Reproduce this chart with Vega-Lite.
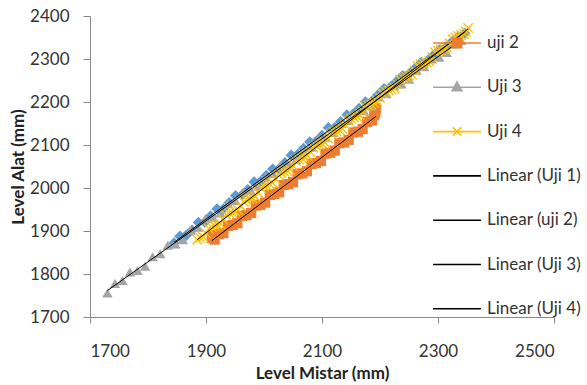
{
  "$schema": "https://vega.github.io/schema/vega-lite/v6.json",
  "autosize": {"type": "none"},
  "padding": {"left": 90, "top": 16, "right": 33, "bottom": 68},
  "width": 464,
  "height": 301,
  "background": "white",
  "config": {
    "view": {"stroke": null},
    "axis": {
      "grid": false,
      "domainColor": "#898989",
      "tickColor": "#898989",
      "tickSize": 6,
      "labelFont": "Lato",
      "labelFontSize": 17,
      "labelColor": "#333333",
      "titleFont": "Lato",
      "titleFontSize": 17,
      "titleFontWeight": "bold",
      "titleColor": "#222222"
    },
    "legend": {
      "orient": "none",
      "legendX": 345,
      "legendY": 5,
      "title": null,
      "padding": 0,
      "symbolSize": 1764,
      "symbolStrokeWidth": 1.6,
      "symbolOpacity": 1,
      "labelFont": "Lato",
      "labelFontSize": 17,
      "labelColor": "#333333",
      "labelOffset": 8,
      "rowPadding": 14.3,
      "labelLimit": 300
    }
  },
  "datasets": {
    "pts": [
      {"series": "Uji 1", "mistar": 1845, "alat": 1872},
      {"series": "Uji 1", "mistar": 1855, "alat": 1888},
      {"series": "Uji 1", "mistar": 1866, "alat": 1890},
      {"series": "Uji 1", "mistar": 1876, "alat": 1902},
      {"series": "Uji 1", "mistar": 1887, "alat": 1920},
      {"series": "Uji 1", "mistar": 1898, "alat": 1921},
      {"series": "Uji 1", "mistar": 1908, "alat": 1935},
      {"series": "Uji 1", "mistar": 1919, "alat": 1951},
      {"series": "Uji 1", "mistar": 1930, "alat": 1951},
      {"series": "Uji 1", "mistar": 1940, "alat": 1966},
      {"series": "Uji 1", "mistar": 1951, "alat": 1982},
      {"series": "Uji 1", "mistar": 1962, "alat": 1984},
      {"series": "Uji 1", "mistar": 1972, "alat": 1996},
      {"series": "Uji 1", "mistar": 1983, "alat": 2014},
      {"series": "Uji 1", "mistar": 1994, "alat": 2015},
      {"series": "Uji 1", "mistar": 2004, "alat": 2029},
      {"series": "Uji 1", "mistar": 2015, "alat": 2044},
      {"series": "Uji 1", "mistar": 2026, "alat": 2045},
      {"series": "Uji 1", "mistar": 2036, "alat": 2059},
      {"series": "Uji 1", "mistar": 2047, "alat": 2076},
      {"series": "Uji 1", "mistar": 2058, "alat": 2078},
      {"series": "Uji 1", "mistar": 2068, "alat": 2092},
      {"series": "Uji 1", "mistar": 2079, "alat": 2107},
      {"series": "Uji 1", "mistar": 2090, "alat": 2109},
      {"series": "Uji 1", "mistar": 2100, "alat": 2122},
      {"series": "Uji 1", "mistar": 2111, "alat": 2140},
      {"series": "Uji 1", "mistar": 2122, "alat": 2140},
      {"series": "Uji 1", "mistar": 2132, "alat": 2154},
      {"series": "Uji 1", "mistar": 2143, "alat": 2170},
      {"series": "Uji 1", "mistar": 2154, "alat": 2172},
      {"series": "Uji 1", "mistar": 2164, "alat": 2185},
      {"series": "Uji 1", "mistar": 2175, "alat": 2200},
      {"series": "Uji 1", "mistar": 2186, "alat": 2202},
      {"series": "Uji 1", "mistar": 2196, "alat": 2216},
      {"series": "Uji 1", "mistar": 2207, "alat": 2231},
      {"series": "Uji 1", "mistar": 2218, "alat": 2235},
      {"series": "Uji 1", "mistar": 2228, "alat": 2247},
      {"series": "Uji 1", "mistar": 2239, "alat": 2261},
      {"series": "Uji 1", "mistar": 2250, "alat": 2265},
      {"series": "Uji 1", "mistar": 2260, "alat": 2278},
      {"series": "Uji 1", "mistar": 2271, "alat": 2292},
      {"series": "Uji 1", "mistar": 2282, "alat": 2296},
      {"series": "Uji 1", "mistar": 2292, "alat": 2309},
      {"series": "Uji 1", "mistar": 2303, "alat": 2322},
      {"series": "Uji 1", "mistar": 2314, "alat": 2328},
      {"series": "Uji 1", "mistar": 2324, "alat": 2340},
      {"series": "Uji 1", "mistar": 2335, "alat": 2352},
      {"series": "Uji 1", "mistar": 2346, "alat": 2360},
      {"series": "uji 2", "mistar": 1910, "alat": 1884},
      {"series": "uji 2", "mistar": 1912, "alat": 1890},
      {"series": "uji 2", "mistar": 1915, "alat": 1880},
      {"series": "uji 2", "mistar": 1922, "alat": 1893},
      {"series": "uji 2", "mistar": 1930, "alat": 1895},
      {"series": "uji 2", "mistar": 1938, "alat": 1912},
      {"series": "uji 2", "mistar": 1946, "alat": 1914},
      {"series": "uji 2", "mistar": 1954, "alat": 1918},
      {"series": "uji 2", "mistar": 1962, "alat": 1935},
      {"series": "uji 2", "mistar": 1970, "alat": 1937},
      {"series": "uji 2", "mistar": 1978, "alat": 1942},
      {"series": "uji 2", "mistar": 1986, "alat": 1959},
      {"series": "uji 2", "mistar": 1994, "alat": 1961},
      {"series": "uji 2", "mistar": 2002, "alat": 1966},
      {"series": "uji 2", "mistar": 2010, "alat": 1984},
      {"series": "uji 2", "mistar": 2018, "alat": 1986},
      {"series": "uji 2", "mistar": 2026, "alat": 1990},
      {"series": "uji 2", "mistar": 2034, "alat": 2007},
      {"series": "uji 2", "mistar": 2042, "alat": 2009},
      {"series": "uji 2", "mistar": 2050, "alat": 2014},
      {"series": "uji 2", "mistar": 2058, "alat": 2032},
      {"series": "uji 2", "mistar": 2066, "alat": 2034},
      {"series": "uji 2", "mistar": 2074, "alat": 2039},
      {"series": "uji 2", "mistar": 2082, "alat": 2056},
      {"series": "uji 2", "mistar": 2090, "alat": 2058},
      {"series": "uji 2", "mistar": 2098, "alat": 2063},
      {"series": "uji 2", "mistar": 2106, "alat": 2080},
      {"series": "uji 2", "mistar": 2114, "alat": 2082},
      {"series": "uji 2", "mistar": 2122, "alat": 2087},
      {"series": "uji 2", "mistar": 2130, "alat": 2104},
      {"series": "uji 2", "mistar": 2138, "alat": 2106},
      {"series": "uji 2", "mistar": 2146, "alat": 2112},
      {"series": "uji 2", "mistar": 2154, "alat": 2129},
      {"series": "uji 2", "mistar": 2162, "alat": 2131},
      {"series": "uji 2", "mistar": 2170, "alat": 2137},
      {"series": "uji 2", "mistar": 2178, "alat": 2154},
      {"series": "uji 2", "mistar": 2186, "alat": 2157},
      {"series": "uji 2", "mistar": 2190, "alat": 2169},
      {"series": "uji 2", "mistar": 2192, "alat": 2176},
      {"series": "uji 2", "mistar": 2193, "alat": 2185},
      {"series": "Uji 3", "mistar": 1730, "alat": 1756},
      {"series": "Uji 3", "mistar": 1743, "alat": 1778},
      {"series": "Uji 3", "mistar": 1756, "alat": 1785},
      {"series": "Uji 3", "mistar": 1769, "alat": 1805},
      {"series": "Uji 3", "mistar": 1782, "alat": 1808},
      {"series": "Uji 3", "mistar": 1795, "alat": 1818},
      {"series": "Uji 3", "mistar": 1808, "alat": 1840},
      {"series": "Uji 3", "mistar": 1821, "alat": 1847},
      {"series": "Uji 3", "mistar": 1834, "alat": 1867},
      {"series": "Uji 3", "mistar": 1847, "alat": 1870},
      {"series": "Uji 3", "mistar": 1860, "alat": 1880},
      {"series": "Uji 3", "mistar": 1873, "alat": 1902},
      {"series": "Uji 3", "mistar": 1886, "alat": 1909},
      {"series": "Uji 3", "mistar": 1899, "alat": 1929},
      {"series": "Uji 3", "mistar": 1912, "alat": 1932},
      {"series": "Uji 3", "mistar": 1925, "alat": 1942},
      {"series": "Uji 3", "mistar": 1938, "alat": 1964},
      {"series": "Uji 3", "mistar": 1951, "alat": 1971},
      {"series": "Uji 3", "mistar": 1964, "alat": 1991},
      {"series": "Uji 3", "mistar": 1977, "alat": 1994},
      {"series": "Uji 3", "mistar": 1990, "alat": 2004},
      {"series": "Uji 3", "mistar": 2003, "alat": 2026},
      {"series": "Uji 3", "mistar": 2016, "alat": 2033},
      {"series": "Uji 3", "mistar": 2029, "alat": 2053},
      {"series": "Uji 3", "mistar": 2042, "alat": 2056},
      {"series": "Uji 3", "mistar": 2055, "alat": 2066},
      {"series": "Uji 3", "mistar": 2068, "alat": 2088},
      {"series": "Uji 3", "mistar": 2081, "alat": 2095},
      {"series": "Uji 3", "mistar": 2094, "alat": 2115},
      {"series": "Uji 3", "mistar": 2107, "alat": 2118},
      {"series": "Uji 3", "mistar": 2120, "alat": 2129},
      {"series": "Uji 3", "mistar": 2133, "alat": 2150},
      {"series": "Uji 3", "mistar": 2146, "alat": 2157},
      {"series": "Uji 3", "mistar": 2159, "alat": 2176},
      {"series": "Uji 3", "mistar": 2172, "alat": 2180},
      {"series": "Uji 3", "mistar": 2185, "alat": 2191},
      {"series": "Uji 3", "mistar": 2198, "alat": 2212},
      {"series": "Uji 3", "mistar": 2211, "alat": 2219},
      {"series": "Uji 3", "mistar": 2224, "alat": 2238},
      {"series": "Uji 3", "mistar": 2237, "alat": 2242},
      {"series": "Uji 3", "mistar": 2250, "alat": 2253},
      {"series": "Uji 3", "mistar": 2263, "alat": 2274},
      {"series": "Uji 3", "mistar": 2276, "alat": 2282},
      {"series": "Uji 3", "mistar": 2289, "alat": 2300},
      {"series": "Uji 3", "mistar": 2302, "alat": 2304},
      {"series": "Uji 3", "mistar": 2315, "alat": 2315},
      {"series": "Uji 3", "mistar": 2328, "alat": 2335},
      {"series": "Uji 3", "mistar": 2340, "alat": 2343},
      {"series": "Uji 4", "mistar": 1885, "alat": 1880},
      {"series": "Uji 4", "mistar": 1890, "alat": 1884},
      {"series": "Uji 4", "mistar": 1895, "alat": 1886},
      {"series": "Uji 4", "mistar": 1900, "alat": 1895},
      {"series": "Uji 4", "mistar": 1905, "alat": 1905},
      {"series": "Uji 4", "mistar": 1910, "alat": 1909},
      {"series": "Uji 4", "mistar": 1915, "alat": 1912},
      {"series": "Uji 4", "mistar": 1920, "alat": 1914},
      {"series": "Uji 4", "mistar": 1925, "alat": 1917},
      {"series": "Uji 4", "mistar": 1930, "alat": 1926},
      {"series": "Uji 4", "mistar": 1935, "alat": 1937},
      {"series": "Uji 4", "mistar": 1940, "alat": 1941},
      {"series": "Uji 4", "mistar": 1945, "alat": 1943},
      {"series": "Uji 4", "mistar": 1950, "alat": 1946},
      {"series": "Uji 4", "mistar": 1955, "alat": 1949},
      {"series": "Uji 4", "mistar": 1960, "alat": 1958},
      {"series": "Uji 4", "mistar": 1965, "alat": 1968},
      {"series": "Uji 4", "mistar": 1970, "alat": 1972},
      {"series": "Uji 4", "mistar": 1975, "alat": 1975},
      {"series": "Uji 4", "mistar": 1980, "alat": 1977},
      {"series": "Uji 4", "mistar": 1985, "alat": 1980},
      {"series": "Uji 4", "mistar": 1990, "alat": 1989},
      {"series": "Uji 4", "mistar": 1995, "alat": 2000},
      {"series": "Uji 4", "mistar": 2000, "alat": 2004},
      {"series": "Uji 4", "mistar": 2005, "alat": 2006},
      {"series": "Uji 4", "mistar": 2010, "alat": 2009},
      {"series": "Uji 4", "mistar": 2015, "alat": 2012},
      {"series": "Uji 4", "mistar": 2020, "alat": 2021},
      {"series": "Uji 4", "mistar": 2025, "alat": 2031},
      {"series": "Uji 4", "mistar": 2030, "alat": 2035},
      {"series": "Uji 4", "mistar": 2035, "alat": 2038},
      {"series": "Uji 4", "mistar": 2040, "alat": 2040},
      {"series": "Uji 4", "mistar": 2045, "alat": 2043},
      {"series": "Uji 4", "mistar": 2050, "alat": 2052},
      {"series": "Uji 4", "mistar": 2055, "alat": 2063},
      {"series": "Uji 4", "mistar": 2060, "alat": 2067},
      {"series": "Uji 4", "mistar": 2065, "alat": 2069},
      {"series": "Uji 4", "mistar": 2070, "alat": 2072},
      {"series": "Uji 4", "mistar": 2075, "alat": 2075},
      {"series": "Uji 4", "mistar": 2080, "alat": 2084},
      {"series": "Uji 4", "mistar": 2085, "alat": 2094},
      {"series": "Uji 4", "mistar": 2090, "alat": 2098},
      {"series": "Uji 4", "mistar": 2095, "alat": 2101},
      {"series": "Uji 4", "mistar": 2100, "alat": 2103},
      {"series": "Uji 4", "mistar": 2105, "alat": 2106},
      {"series": "Uji 4", "mistar": 2110, "alat": 2115},
      {"series": "Uji 4", "mistar": 2115, "alat": 2126},
      {"series": "Uji 4", "mistar": 2120, "alat": 2130},
      {"series": "Uji 4", "mistar": 2125, "alat": 2132},
      {"series": "Uji 4", "mistar": 2130, "alat": 2135},
      {"series": "Uji 4", "mistar": 2135, "alat": 2138},
      {"series": "Uji 4", "mistar": 2140, "alat": 2147},
      {"series": "Uji 4", "mistar": 2145, "alat": 2157},
      {"series": "Uji 4", "mistar": 2150, "alat": 2161},
      {"series": "Uji 4", "mistar": 2155, "alat": 2164},
      {"series": "Uji 4", "mistar": 2160, "alat": 2166},
      {"series": "Uji 4", "mistar": 2165, "alat": 2169},
      {"series": "Uji 4", "mistar": 2170, "alat": 2178},
      {"series": "Uji 4", "mistar": 2175, "alat": 2189},
      {"series": "Uji 4", "mistar": 2180, "alat": 2192},
      {"series": "Uji 4", "mistar": 2185, "alat": 2195},
      {"series": "Uji 4", "mistar": 2190, "alat": 2198},
      {"series": "Uji 4", "mistar": 2195, "alat": 2201},
      {"series": "Uji 4", "mistar": 2200, "alat": 2210},
      {"series": "Uji 4", "mistar": 2205, "alat": 2220},
      {"series": "Uji 4", "mistar": 2210, "alat": 2224},
      {"series": "Uji 4", "mistar": 2215, "alat": 2227},
      {"series": "Uji 4", "mistar": 2220, "alat": 2229},
      {"series": "Uji 4", "mistar": 2225, "alat": 2232},
      {"series": "Uji 4", "mistar": 2230, "alat": 2241},
      {"series": "Uji 4", "mistar": 2235, "alat": 2252},
      {"series": "Uji 4", "mistar": 2240, "alat": 2256},
      {"series": "Uji 4", "mistar": 2245, "alat": 2258},
      {"series": "Uji 4", "mistar": 2250, "alat": 2261},
      {"series": "Uji 4", "mistar": 2255, "alat": 2264},
      {"series": "Uji 4", "mistar": 2260, "alat": 2273},
      {"series": "Uji 4", "mistar": 2265, "alat": 2283},
      {"series": "Uji 4", "mistar": 2270, "alat": 2287},
      {"series": "Uji 4", "mistar": 2275, "alat": 2290},
      {"series": "Uji 4", "mistar": 2280, "alat": 2292},
      {"series": "Uji 4", "mistar": 2285, "alat": 2295},
      {"series": "Uji 4", "mistar": 2290, "alat": 2304},
      {"series": "Uji 4", "mistar": 2295, "alat": 2315},
      {"series": "Uji 4", "mistar": 2300, "alat": 2319},
      {"series": "Uji 4", "mistar": 2305, "alat": 2321},
      {"series": "Uji 4", "mistar": 2310, "alat": 2324},
      {"series": "Uji 4", "mistar": 2315, "alat": 2327},
      {"series": "Uji 4", "mistar": 2320, "alat": 2336},
      {"series": "Uji 4", "mistar": 2325, "alat": 2346},
      {"series": "Uji 4", "mistar": 2330, "alat": 2350},
      {"series": "Uji 4", "mistar": 2335, "alat": 2353},
      {"series": "Uji 4", "mistar": 2340, "alat": 2355},
      {"series": "Uji 4", "mistar": 2345, "alat": 2358},
      {"series": "Uji 4", "mistar": 2348, "alat": 2364},
      {"series": "Uji 4", "mistar": 2352, "alat": 2372}
    ]
  },
  "data": {"name": "pts"},
  "encoding": {
    "x": {
      "field": "mistar", "type": "quantitative", "title": "Level Mistar (mm)",
      "scale": {"domain": [1700, 2500], "nice": false, "zero": false},
      "axis": {"values": [1700, 1900, 2100, 2300, 2500], "format": "d", "labelPadding": 20, "titlePadding": 6}
    },
    "y": {
      "field": "alat", "type": "quantitative", "title": "Level Alat (mm)",
      "scale": {"domain": [1700, 2400], "nice": false, "zero": false},
      "axis": {"values": [1700, 1800, 1900, 2000, 2100, 2200, 2300, 2400], "format": "d", "labelPadding": 14, "titlePadding": 2, "tickSize": 7}
    }
  },
  "layer": [
    {
      "transform": [{"filter": "datum.series === 'Uji 1'"}],
      "mark": {"type": "point", "filled": true, "opacity": 1, "shape": "diamond", "size": 130, "color": "#5B9BD5"}
    },
    {
      "transform": [{"filter": "datum.series === 'uji 2'"}],
      "mark": {"type": "point", "filled": true, "opacity": 1, "shape": "square", "size": 105, "color": "#ED7D31"}
    },
    {
      "transform": [{"filter": "datum.series === 'Uji 3'"}],
      "mark": {"type": "point", "filled": true, "opacity": 1, "shape": "triangle-up", "size": 110, "color": "#A5A5A5"}
    },
    {
      "transform": [{"filter": "datum.series === 'Uji 4'"}],
      "mark": {"type": "point", "filled": false, "opacity": 1, "size": 90, "strokeWidth": 1.4, "shape": "M-1,-1L1,1M-1,1L1,-1", "color": "#FFC000"}
    },
    {
      "transform": [{"regression": "alat", "on": "mistar", "groupby": ["series"]}],
      "mark": {"type": "line", "color": "#000000", "strokeWidth": 1},
      "encoding": {
        "detail": {"field": "series", "type": "nominal"}
      }
    },
    {
      "mark": {"type": "point", "filled": true, "opacity": 0},
      "encoding": {
        "fill": {
          "field": "series", "type": "nominal",
          "scale": {
            "domain": ["Uji 1", "uji 2", "Uji 3", "Uji 4", "Linear (Uji 1)", "Linear (uji 2)", "Linear (Uji 3)", "Linear (Uji 4)"],
            "range": ["#5B9BD5", "#ED7D31", "#A5A5A5", "transparent", "transparent", "transparent", "transparent", "transparent"]
          },
          "legend": {"values": ["uji 2", "Uji 3", "Uji 4", "Linear (Uji 1)", "Linear (uji 2)", "Linear (Uji 3)", "Linear (Uji 4)"]}
        },
        "stroke": {
          "field": "series", "type": "nominal",
          "scale": {
            "domain": ["Uji 1", "uji 2", "Uji 3", "Uji 4", "Linear (Uji 1)", "Linear (uji 2)", "Linear (Uji 3)", "Linear (Uji 4)"],
            "range": ["#5B9BD5", "#ED7D31", "#A5A5A5", "#FFC000", "#000000", "#000000", "#000000", "#000000"]
          },
          "legend": {"values": ["uji 2", "Uji 3", "Uji 4", "Linear (Uji 1)", "Linear (uji 2)", "Linear (Uji 3)", "Linear (Uji 4)"]}
        },
        "shape": {
          "field": "series", "type": "nominal",
          "scale": {
            "domain": ["Uji 1", "uji 2", "Uji 3", "Uji 4", "Linear (Uji 1)", "Linear (uji 2)", "Linear (Uji 3)", "Linear (Uji 4)"],
            "range": [
              "M-1.14,0H1.14M0,-0.22L0.22,0L0,0.22L-0.22,0Z",
              "M-1.14,0H1.14M-0.22,-0.22H0.22V0.22H-0.22Z",
              "M-1.14,0H1.14M0,-0.26L0.23,0.16H-0.23Z",
              "M-1.14,0H1.14M-0.2,-0.2L0.2,0.2M-0.2,0.2L0.2,-0.2",
              "M-1.14,0H1.14",
              "M-1.14,0H1.14",
              "M-1.14,0H1.14",
              "M-1.14,0H1.14"
            ]
          },
          "legend": {"values": ["uji 2", "Uji 3", "Uji 4", "Linear (Uji 1)", "Linear (uji 2)", "Linear (Uji 3)", "Linear (Uji 4)"]}
        }
      }
    }
  ]
}
